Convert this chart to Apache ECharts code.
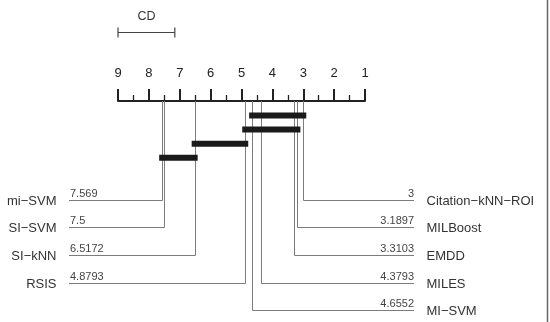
<!DOCTYPE html>
<html>
<head>
<meta charset="utf-8">
<script src="https://cdn.jsdelivr.net/npm/echarts@6/dist/echarts.min.js"></script>
<style>
html,body{margin:0;padding:0;background:#fff}
#main{width:550px;height:322px}
</style>
</head>
<body>
<div id="main"></div>
<script>
// average ranks, best first
var methods = ['Citation−kNN−ROI', 'MILBoost', 'EMDD', 'MILES', 'MI−SVM', 'RSIS', 'SI−kNN', 'SI−SVM', 'mi−SVM'];
var ranks = [3, 3.1897, 3.3103, 4.3793, 4.6552, 4.8793, 6.5172, 7.5, 7.569];
var rankText = ['3', '3.1897', '3.3103', '4.3793', '4.6552', '4.8793', '6.5172', '7.5', '7.569'];
// cliques of non-significantly different methods (worst index -> best index)
var cliqueWorst = [4, 5, 6, 8];
var cliqueBest = [0, 1, 5, 6];
var cd = 1.84;

var FONT = 'Liberation Sans, Arial, Helvetica, sans-serif';
var ROW_TOP = 98.5, ROW_GAP = 27.7;
var BAR_TOP = 14.5, BAR_GAP = 14.1;
var LINE_OUT = 49;

var mychart = echarts.init(document.getElementById('main'));

function renderMethod(params, api) {
    var i = params.dataIndex;
    var r = api.value(0);
    var right = i < 5;
    var row = right ? i : 8 - i;
    var y = ROW_TOP + ROW_GAP * row;
    var top = api.coord([r, 0]);
    var p = api.coord([r, y]);
    var endX = right ? api.coord([1, 0])[0] + LINE_OUT : api.coord([9, 0])[0] - LINE_OUT;
    var px = Math.round(p[0]) + 0.5, py = Math.round(p[1]) + 0.5;
    return {
        type: 'group',
        children: [
            {
                type: 'polyline',
                shape: {points: [[px, top[1]], [px, py], [endX, py]]},
                style: {stroke: '#7c7c7c', lineWidth: 1, fill: null}
            },
            {
                type: 'text',
                style: {
                    x: right ? endX : endX + 1, y: py - 1,
                    text: rankText[i], align: right ? 'right' : 'left', verticalAlign: 'bottom',
                    fontSize: 11, fontFamily: FONT, fill: '#444'
                }
            },
            {
                type: 'text',
                style: {
                    x: right ? endX + 12.5 : endX - 12.5, y: py + 1,
                    text: methods[i], align: right ? 'left' : 'right', verticalAlign: 'middle',
                    fontSize: 13, fontFamily: FONT, fill: '#333'
                }
            }
        ]
    };
}

function renderClique(params, api) {
    var k = params.dataIndex;
    var y = BAR_TOP + BAR_GAP * k;
    var a = api.coord([api.value(0), y]);
    var b = api.coord([api.value(1), y]);
    return {
        type: 'rect',
        shape: {x: a[0] - 3, y: a[1] - 3, width: b[0] - a[0] + 6, height: 6},
        style: {fill: '#1a1a1a'}
    };
}

function renderCD(params, api) {
    var a = api.coord([api.value(0), -68.5]);
    var b = api.coord([api.value(1), -68.5]);
    var s = {stroke: '#444', lineWidth: 1.2};
    return {
        type: 'group',
        children: [
            {type: 'line', shape: {x1: a[0], y1: a[1], x2: b[0], y2: b[1]}, style: s},
            {type: 'line', shape: {x1: a[0], y1: a[1] - 5, x2: a[0], y2: a[1] + 5}, style: s},
            {type: 'line', shape: {x1: b[0], y1: b[1] - 5, x2: b[0], y2: b[1] + 5}, style: s},
            {
                type: 'text',
                style: {
                    x: (a[0] + b[0]) / 2, y: a[1] - 15.5, text: 'CD', align: 'center', verticalAlign: 'middle',
                    fontSize: 12.5, fontFamily: FONT, fill: '#333'
                }
            }
        ]
    };
}

var option = {
    animation: false,
    backgroundColor: '#fff',
    grid: {left: 118, width: 247, top: 101, height: 220},
    xAxis: {
        type: 'value',
        position: 'top',
        min: 1,
        max: 9,
        interval: 1,
        inverse: true,
        axisLine: {lineStyle: {color: '#222', width: 2}},
        axisTick: {length: 12, lineStyle: {color: '#222', width: 2}},
        minorTick: {show: true, splitNumber: 2, length: 6, lineStyle: {color: '#222', width: 1.3}},
        splitLine: {show: false},
        axisLabel: {margin: 21, fontSize: 13, fontFamily: FONT, color: '#222'}
    },
    yAxis: {type: 'value', min: 0, max: 220, inverse: true, show: false},
    graphic: [{
        type: 'line',
        shape: {x1: 547.5, y1: 0, x2: 547.5, y2: 322},
        style: {stroke: '#666', lineWidth: 1.5}
    }],
    series: [
        {
            type: 'custom',
            clip: false,
            renderItem: renderMethod,
            encode: {x: 0, y: 1},
            data: ranks.map(function (r, i) { return [r, i]; })
        },
        {
            type: 'custom',
            clip: false,
            renderItem: renderClique,
            encode: {x: [0, 1], y: 2},
            data: cliqueWorst.map(function (w, k) { return [ranks[w], ranks[cliqueBest[k]], k]; })
        },
        {
            type: 'custom',
            clip: false,
            renderItem: renderCD,
            encode: {x: [0, 1]},
            data: [[9, 9 - cd]]
        }
    ]
};

mychart.setOption(option);
</script>
</body>
</html>
